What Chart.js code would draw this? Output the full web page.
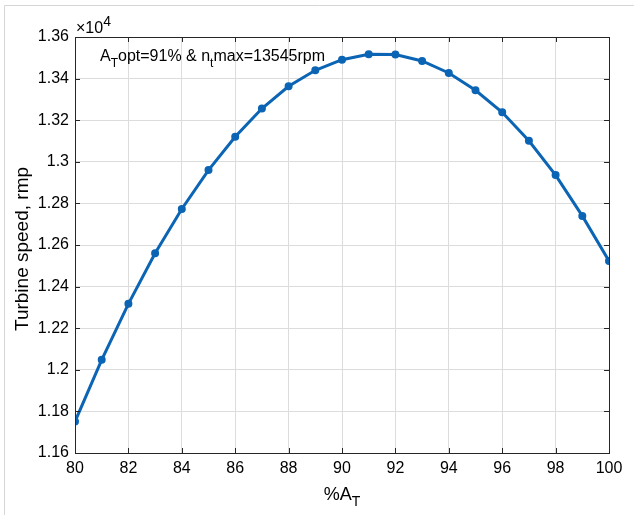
<!DOCTYPE html>
<html>
<head>
<meta charset="utf-8">
<script src="https://cdn.jsdelivr.net/npm/chart.js@4.4.1/dist/chart.umd.min.js"></script>
<style>
  html, body { margin: 0; padding: 0; background: #fff; }
  #wrap { width: 634px; height: 515px; position: relative; }
</style>
</head>
<body>
<div id="wrap"><canvas id="speedChart" width="634" height="515"></canvas></div>
<script>
// Turbine speed vs %A_T (rpm)
const areaPct = [80, 81, 82, 83, 84, 85, 86, 87, 88, 89, 90, 91, 92, 93, 94, 95, 96, 97, 98, 99, 100];
const turbineSpeed = [11751, 12048, 12317, 12560, 12773, 12960, 13120, 13256, 13363, 13440, 13491,
                      13517, 13516, 13485, 13427, 13344, 13238, 13101, 12936, 12740, 12523];
const xTicks = [80, 82, 84, 86, 88, 90, 92, 94, 96, 98, 100];
const yTicks = [11600, 11800, 12000, 12200, 12400, 12600, 12800, 13000, 13200, 13400, 13600];

const FONT = '"Liberation Sans", Arial, Helvetica, sans-serif';
const AXIS_COLOR = '#262626';

// draw text made of normal / subscript / superscript pieces
function drawRich(ctx, parts, x, y, size, small) {
    const k = small || 0.75;
    let cx = x;
    parts.forEach(p => {
        const s = p.sub || p.sup ? Math.round(size * k) : size;
        ctx.font = s + 'px ' + FONT;
        const dy = p.sub ? size * 0.35 : (p.sup ? -size * 0.45 : 0);
        ctx.fillText(p.t, cx, y + dy);
        cx += ctx.measureText(p.t).width;
    });
    return cx - x;
}
function richWidth(ctx, parts, size) {
    let w = 0;
    parts.forEach(p => {
        const s = p.sub || p.sup ? Math.round(size * 0.75) : size;
        ctx.font = s + 'px ' + FONT;
        w += ctx.measureText(p.t).width;
    });
    return w;
}

const matlabDecor = {
    id: 'matlabDecor',
    afterDraw(chart) {
        const ctx = chart.ctx;
        const a = chart.chartArea;
        const xs = chart.scales.x, ys = chart.scales.y;
        ctx.save();

        // outer figure frame
        ctx.strokeStyle = '#d6d6d6';
        ctx.lineWidth = 1;
        ctx.beginPath();
        ctx.moveTo(4.5, 515);
        ctx.lineTo(4.5, 5.5);
        ctx.lineTo(634, 5.5);
        ctx.stroke();

        // axes box + inward ticks
        ctx.strokeStyle = AXIS_COLOR;
        ctx.lineWidth = 1;
        ctx.strokeRect(Math.round(a.left) + 0.5, Math.round(a.top) + 0.5,
                       Math.round(a.right - a.left), Math.round(a.bottom - a.top));
        ctx.beginPath();
        xTicks.forEach(v => {
            const px = Math.round(xs.getPixelForValue(v)) + 0.5;
            ctx.moveTo(px, a.bottom); ctx.lineTo(px, a.bottom - 5);
            ctx.moveTo(px, a.top); ctx.lineTo(px, a.top + 5);
        });
        yTicks.forEach(v => {
            const py = Math.round(ys.getPixelForValue(v)) + 0.5;
            ctx.moveTo(a.left, py); ctx.lineTo(a.left + 5, py);
            ctx.moveTo(a.right, py); ctx.lineTo(a.right - 5, py);
        });
        ctx.stroke();

        ctx.fillStyle = '#000';
        ctx.textBaseline = 'alphabetic';
        ctx.textAlign = 'left';

        // exponent label
        drawRich(ctx, [{ t: '\u00d710' }, { t: '4', sup: true }], a.left + 1, a.top - 4, 16, 0.85);

        // annotation
        drawRich(ctx, [
            { t: 'A' }, { t: 'T', sub: true }, { t: 'opt=91% & n' },
            { t: 't', sub: true }, { t: 'max=13545rpm' }
        ], 100, 61, 16);

        // x title
        const xParts = [{ t: '%A' }, { t: 'T', sub: true }];
        const w = richWidth(ctx, xParts, 18);
        drawRich(ctx, xParts, (a.left + a.right) / 2 - w / 2, 500, 18);

        // y title
        ctx.translate(28, 249);
        ctx.rotate(-Math.PI / 2);
        ctx.textAlign = 'center';
        ctx.font = '19px ' + FONT;
        ctx.fillText('Turbine speed, rmp', 0, 0);

        ctx.restore();
    }
};

new Chart(document.getElementById('speedChart'), {
    type: 'line',
    data: {
        datasets: [{
            data: areaPct.map((x, i) => ({ x: x, y: turbineSpeed[i] })),
            borderColor: '#0b64b4',
            backgroundColor: '#0b64b4',
            borderWidth: 3,
            pointRadius: 2.5,
            pointHoverRadius: 2.5,
            tension: 0
        }]
    },
    options: {
        responsive: false,
        animation: false,
        events: [],
        layout: { padding: { left: 0, top: 37, right: 25, bottom: 0 } },
        plugins: { legend: { display: false }, tooltip: { enabled: false } },
        scales: {
            x: {
                type: 'linear',
                min: 80, max: 100,
                afterBuildTicks: s => { s.ticks = xTicks.map(v => ({ value: v })); },
                afterFit: s => { s.height = 62; },
                grid: { color: '#dcdcdc', drawTicks: false },
                border: { display: false },
                ticks: { padding: 6, color: '#000', font: { family: FONT, size: 16 } }
            },
            y: {
                min: 11600, max: 13600,
                afterBuildTicks: s => { s.ticks = yTicks.map(v => ({ value: v })); },
                afterFit: s => { s.width = 75; },
                grid: { color: '#dcdcdc', drawTicks: false },
                border: { display: false },
                ticks: {
                    padding: 6, color: '#000', font: { family: FONT, size: 16 },
                    callback: v => String(+(v / 10000).toFixed(2))
                }
            }
        }
    },
    plugins: [matlabDecor]
});
</script>
</body>
</html>
